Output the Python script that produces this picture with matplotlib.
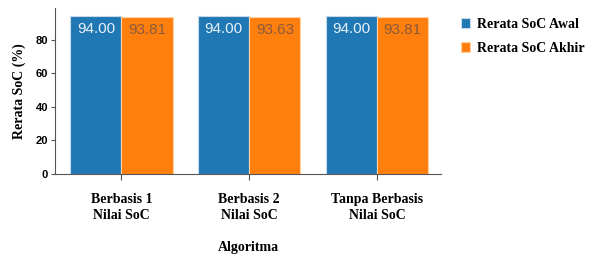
import numpy as np
import matplotlib
matplotlib.use("Agg")
import matplotlib.pyplot as plt

kategori = ["Berbasis 1\nNilai SoC", "Berbasis 2\nNilai SoC", "Tanpa Berbasis\nNilai SoC"]
soc_awal = [94.00, 94.00, 94.00]
soc_akhir = [93.81, 93.63, 93.81]
yticks = [0, 20, 40, 60, 80]

serif = "Liberation Serif"
sans = "Liberation Sans"

fig = plt.figure(figsize=(5.9, 2.58), dpi=100)
ax = fig.add_axes([55/590, 1 - 174/258, (441 - 55)/590, (174 - 8)/258])

x = np.arange(len(kategori))
w = 0.4
b1 = ax.bar(x - w/2, soc_awal, w, color="#1f77b4", edgecolor="#c8d8e8", linewidth=0.8,
            label="Rerata SoC Awal")
b2 = ax.bar(x + w/2, soc_akhir, w, color="#ff7f0e", edgecolor="#ffd0a0", linewidth=0.8,
            label="Rerata SoC Akhir")

for r, v in zip(b1, soc_awal):
    ax.text(r.get_x() + r.get_width()/2, v - 3.5, f"{v:.2f}", ha="center", va="top",
            color="#e8f0f8", fontsize=11, family=sans)
for r, v in zip(b2, soc_akhir):
    ax.text(r.get_x() + r.get_width()/2, v - 3.5, f"{v:.2f}", ha="center", va="top",
            color="#8a5a3a", fontsize=11, family=sans)

ax.set_xlim(-0.52, 2.5)
ax.set_ylim(0, 99)
ax.set_yticks(yticks)
ax.set_yticklabels([str(t) for t in yticks], fontsize=8, fontweight="bold", family=sans)
ax.set_xticks(x)
ax.set_xticklabels(kategori, fontsize=10, fontweight="bold", family=serif, linespacing=1.3)
ax.tick_params(axis="x", length=4, pad=10, color="#555555")
ax.tick_params(axis="y", length=3, pad=2, color="#555555")
ax.set_ylabel("Rerata SoC (%)", fontsize=10, fontweight="bold", family=serif, labelpad=7)
ax.set_xlabel("Algoritma", fontsize=10, fontweight="bold", family=serif, labelpad=13)

for s in ["top", "right"]:
    ax.spines[s].set_visible(False)
for s in ["left", "bottom"]:
    ax.spines[s].set_color("#555555")

leg = fig.legend(loc="upper left", bbox_to_anchor=(448/590, 1 - 5/258), frameon=False,
                 prop={"family": serif, "weight": "bold", "size": 10},
                 handlelength=0.7, handleheight=0.7, handletextpad=0.5, labelspacing=0.8)

fig.savefig("out.png", dpi=100)
